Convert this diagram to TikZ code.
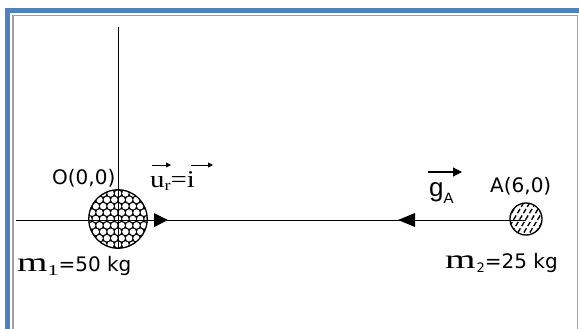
\documentclass[tikz,border=0pt]{standalone}
\usepackage{fontspec}
\setmainfont{DejaVu Sans}
\newfontfamily\mserif[FakeStretch=1.45]{Liberation Serif}
\newfontfamily\userif[FakeStretch=1.2]{Liberation Serif}
\newfontfamily\asans{Liberation Sans}
\usetikzlibrary{arrows.meta}
\definecolor{frameblue}{HTML}{4F81BD}
\definecolor{framegray}{HTML}{A0A0A0}
\tikzset{
  lbl/.style={anchor=base west, inner sep=0pt, font=\fontsize{20}{20}\selectfont},
  axisline/.style={line width=1pt, black},
  vecsmall/.style={line width=0.8pt, -{Triangle[length=5pt,width=5pt]}},
  vecbig/.style={line width=1.2pt, -{Triangle[length=9pt,width=9pt]}},
  mark head/.style={fill=black},
}
\begin{document}
\begin{tikzpicture}[x=1pt,y=-1pt]
\useasboundingbox (0,0) rectangle (579,329);
% frame
\draw[frameblue, line width=5pt] (7.5,329) -- (7.5,10.5) -- (579,10.5);
\draw[framegray, line width=1.3pt] (13,329) -- (13,15.5) -- (577.5,15.5) -- (577.5,329);

% mass 1
\node[circle, minimum size=59pt, inner sep=0pt] (O) at (118,219) {};
\begin{scope}
  \clip (O.center) circle[radius=29.5pt];
  \fill (O.center) circle[radius=29.5pt];
  \foreach \k in {-5,...,5} {
    \foreach \j in {-5,...,5} {
      \pgfmathsetmacro\xx{118+7.4*\j+3.7*mod(abs(\k),2)}
      \pgfmathsetmacro\yy{219+6.4*\k}
      \fill[white] (\xx,\yy) circle[radius=3.25pt];
    }
  }
\end{scope}
\draw[line width=1.3pt] (O.center) circle[radius=29.2pt];

% mass 2
\node[circle, minimum size=33pt, inner sep=0pt, fill=white] (A) at (526,219) {};
\begin{scope}
  \clip (A.center) circle[radius=16.5pt];
  \foreach \s in {-24,-18,...,24} {
    \draw[line width=1.3pt, dash pattern=on 5pt off 2.5pt] (526+\s-12,239) -- (526+\s+12,199);
  }
\end{scope}
\draw[line width=1.3pt] (A.center) circle[radius=16pt];

% axes
\coordinate (Ytop) at (118,27);
\coordinate (Xl) at (16,220);
\draw[axisline] (Ytop) -- (O.south);
\draw[axisline] (Xl) -- (A.center |- Xl);

% arrowheads on axis
\fill[mark head] (154,213) -- (168,220) -- (154,227) -- cycle;
\fill[mark head] (415,213) -- (398,220) -- (415,227) -- cycle;

% labels
\node[lbl] (Olab) at (52,184) {O(0,0)};
\node[lbl] (Alab) at (490,192) {A(6,0)};
\node[lbl] (ur) at (150,187) {{\userif\fontsize{24}{24}\selectfont u}\raisebox{-3pt}{\userif\fontsize{15}{15}\selectfont r}{\userif\fontsize{24}{24}\selectfont =i}};
\node[lbl] (gA) at (429,196) {{\asans\fontsize{26}{26}\selectfont g}\raisebox{-7pt}{\asans\fontsize{15}{15}\selectfont A}};
\node[lbl] (m1) at (17,271) {{\mserif\fontsize{27}{27}\selectfont m}\raisebox{-4pt}{\mserif\fontsize{15}{15}\selectfont 1}=50 kg};
\node[lbl] (m2) at (445,268) {{\mserif\fontsize{27}{27}\selectfont m}\hspace{1pt}\raisebox{-4pt}{\fontsize{13}{13}\selectfont 2}=25 kg};

% vector arrows
\draw[vecsmall] (152,165) -- (171,165);
\draw[vecsmall] (191,165) -- (213,165);
\draw[vecbig] (428,172) -- (462,172);
\end{tikzpicture}
\end{document}
